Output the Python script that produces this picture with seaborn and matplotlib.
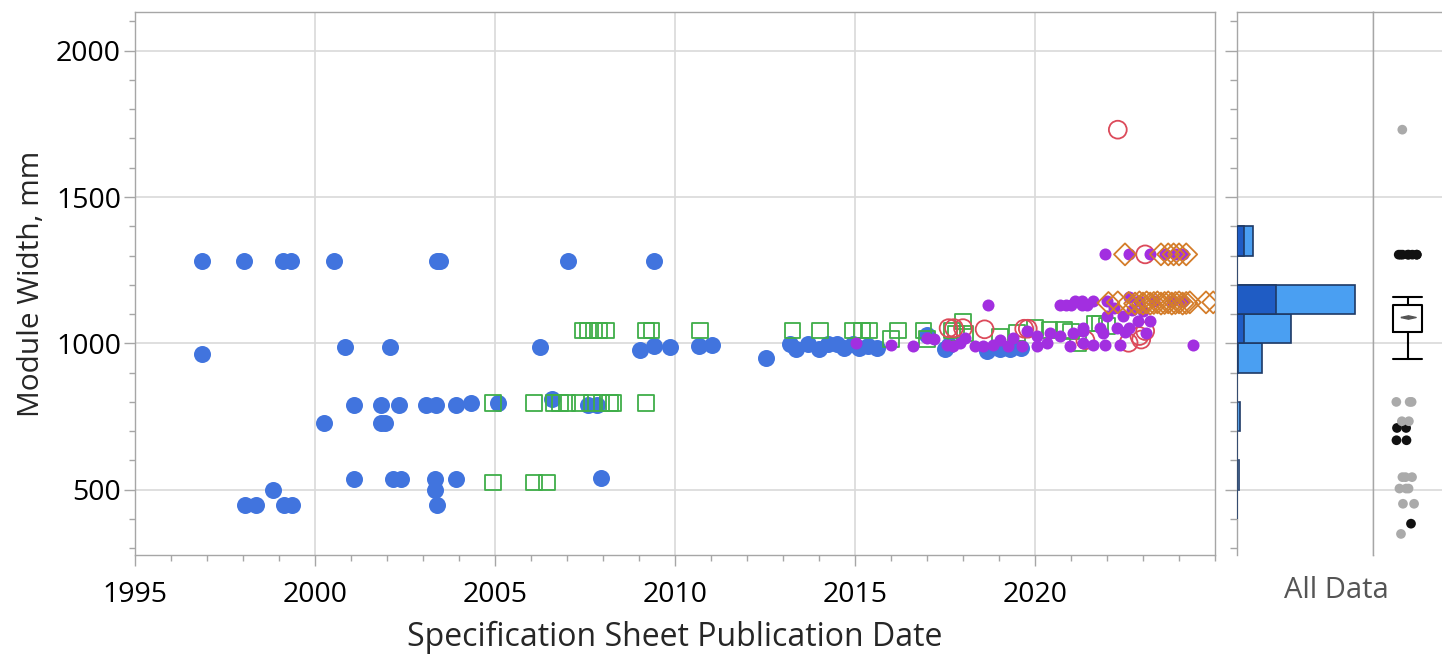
import numpy as np
import pandas as pd
import matplotlib
matplotlib.use("Agg")
import matplotlib.pyplot as plt
from matplotlib import font_manager
from matplotlib.ticker import MultipleLocator, NullFormatter
import seaborn as sns

# ---------------- data ----------------
blue_year = [1996.87, 1998.04, 1999.12, 1999.33, 2000.54, 2003.38, 2003.47, 2007.02, 2009.43,
             1996.87,
             2000.84, 2002.09, 2006.26, 2009.02, 2009.43, 2009.85, 2010.67, 2011.02, 2012.52,
             2013.19, 2013.36, 2013.69, 2014.0, 2014.26, 2014.5, 2014.7, 2014.95, 2015.1,
             2015.35, 2015.6, 2017.0, 2017.5, 2017.6, 2018.66, 2019.03, 2019.3, 2019.6,
             2001.09, 2001.84, 2002.33, 2003.07, 2003.36, 2003.92, 2004.34, 2005.09, 2006.59,
             2007.59, 2007.82,
             2000.26, 2001.84, 2001.95,
             2001.09, 2002.18, 2002.38, 2003.34, 2003.92, 2007.94,
             1998.84, 2003.34,
             1998.06, 1998.36, 1999.14, 1999.35, 2003.4]
blue_width = [1282, 1282, 1282, 1282, 1282, 1282, 1282, 1282, 1282,
              962,
              989, 989, 989, 979, 991, 989, 991, 995, 949,
              998, 980, 998, 980, 998, 998, 985, 998, 985,
              990, 985, 1030, 980, 995, 975, 980, 980, 985,
              788, 788, 788, 788, 788, 788, 797, 797, 809,
              788, 788,
              729, 729, 729,
              535, 535, 535, 535, 535, 539,
              500, 500,
              449, 449, 449, 449, 449]

green_year = [2007.43, 2007.59, 2007.75, 2007.9, 2008.08, 2009.19, 2009.35, 2010.69, 2013.27,
              2014.03, 2014.95, 2015.2, 2015.4, 2016.2, 2016.9, 2017.7,
              2016.0, 2017.0,
              2004.94, 2006.09, 2006.62, 2006.81, 2007.0, 2007.36, 2007.69, 2007.96, 2008.19,
              2008.29, 2009.19,
              2004.94, 2006.09, 2006.44,
              2017.8, 2018.0, 2018.05, 2019.03, 2019.5, 2020.0, 2020.4, 2020.8, 2021.0, 2021.2,
              2021.65, 2021.8, 2022.0]
green_width = [1044, 1044, 1044, 1044, 1044, 1044, 1044, 1044, 1044,
               1044, 1044, 1044, 1044, 1044, 1044, 1044,
               1015, 1015,
               796, 796, 796, 796, 796, 796, 796, 796, 796,
               796, 796,
               524, 524, 524,
               1034, 1074, 1034, 1023, 1036, 1052, 1046, 1046, 1040, 1000,
               1068, 1068, 1060]

red_year = [2017.6, 2017.75, 2018.0, 2018.6, 2019.7, 2019.8, 2021.4, 2022.3, 2022.6, 2022.95,
            2023.06, 2023.06, 2022.9]
red_width = [1052, 1052, 1052, 1048, 1050, 1050, 1011, 1730, 1002, 1013,
             1042, 1304, 1025]

purple_year = [2015.03, 2016.0, 2016.6, 2016.99, 2017.2, 2017.55, 2017.73, 2017.92, 2018.06,
               2018.33, 2018.56, 2018.7, 2018.84, 2019.03, 2019.26, 2019.4, 2019.63, 2019.77,
               2020.05, 2020.05, 2020.32, 2020.42, 2020.69, 2020.97, 2021.06, 2021.34, 2021.34,
               2020.7, 2020.85, 2021.0, 2021.3, 2021.45,
               2021.99, 2022.45, 2022.87, 2023.2, 2021.34, 2021.8, 2022.27, 2022.6, 2023.07,
               2021.6, 2021.95, 2022.36, 2024.4, 2021.9, 2022.5,
               2021.95, 2022.6, 2023.2, 2023.6, 2023.9, 2024.1,
               2021.1, 2021.3, 2021.6, 2022.0, 2022.6, 2022.9, 2023.3, 2023.8, 2024.1,
               2022.2, 2022.7, 2023.0]
purple_width = [1000, 993, 990, 1019, 1016, 993, 990, 1002, 1019,
                990, 990, 1132, 996, 1013, 990, 1019, 990, 1042,
                1025, 990, 1002, 1036, 1025, 990, 1036, 1042, 1002,
                1132, 1132, 1132, 1132, 1132,
                1092, 1092, 1075, 1075, 1052, 1052, 1052, 1052, 1036,
                996, 996, 996, 996, 1036, 1040,
                1304, 1304, 1304, 1304, 1304, 1304,
                1144, 1144, 1144, 1144, 1160, 1144, 1144, 1144, 1144,
                1120, 1115, 1110]

orange_year = [2022.5, 2023.5, 2023.7, 2023.85, 2024.0, 2024.2,
               2022.04, 2022.3, 2022.6, 2022.78, 2022.9, 2023.0, 2023.1, 2023.2, 2023.3, 2023.4,
               2023.5, 2023.6, 2023.7, 2023.8, 2023.9, 2024.0, 2024.1, 2024.2, 2024.3, 2024.75,
               2024.95]
orange_width = [1304, 1304, 1304, 1304, 1304, 1304,
                1138, 1140, 1138, 1136, 1140, 1136, 1140, 1136, 1138, 1140,
                1136, 1138, 1140, 1136, 1138, 1140, 1136, 1138, 1140, 1140,
                1140]

# distribution of all module widths (100 mm bins)
hist_edges = [400, 500, 600, 700, 800, 900, 1000, 1100, 1200, 1300, 1400]
hist_all = [0, 2, 0, 3, 0, 22, 48, 104, 0, 14]
hist_selected = [0, 0, 0, 0, 0, 1, 6, 34, 0, 6]

# box summary for all data
box_whislo, box_q1, box_med, box_q3, box_whishi = 947, 1038, 1091, 1132, 1158
outliers_dark = [1303, 1303, 1303, 1303, 1303, 1303, 1303, 1303, 711, 711, 669, 669, 384]
outliers_light = [1730, 800, 800, 800, 734, 734, 543, 543, 543, 504, 504, 504, 452, 452, 349]

# ---------------- style ----------------
sns.set_theme(style="white")
names = {f.name for f in font_manager.fontManager.ttflist}
base_font = "Open Sans" if "Open Sans" in names else "DejaVu Sans"
plt.rcParams["font.family"] = [base_font, "DejaVu Sans"]

W, H = 1442, 662
fig = plt.figure(figsize=(W / 100, H / 100), dpi=100)


def rect(l, t, r, b):
    return [l / W, 1 - b / H, (r - l) / W, (b - t) / H]


ax = fig.add_axes(rect(135, 12, 1215, 555))
axh = fig.add_axes(rect(1237, 12, 1373, 555))
axb = fig.add_axes(rect(1373, 12, 1442, 555))

YLIM = (277, 2132)
GRID = "#d9d9d9"
SPINE = "#a6a6a6"

# ---------------- main scatter ----------------
sns.scatterplot(x=blue_year, y=blue_width, ax=ax, color="#4174de", marker="o",
                s=150, linewidth=0, zorder=3)
sns.scatterplot(x=green_year, y=green_width, ax=ax, color="#3fae49", marker="s",
                s=125, facecolor="none", edgecolor="#3fae49", linewidth=1.3, zorder=4)
sns.scatterplot(x=red_year, y=red_width, ax=ax, color="#dc4a5a", marker="o",
                s=165, facecolor="none", edgecolor="#dc4a5a", linewidth=1.3, zorder=5)
sns.scatterplot(x=purple_year, y=purple_width, ax=ax, color="#a22fe0", marker="o",
                s=75, linewidth=0, zorder=6)
sns.scatterplot(x=orange_year, y=orange_width, ax=ax, color="#d47d2a", marker="D",
                s=125, facecolor="none", edgecolor="#d47d2a", linewidth=1.3, zorder=7)

ax.set_xlim(1995, 2025)
ax.set_ylim(*YLIM)
ax.xaxis.set_major_locator(MultipleLocator(5))
ax.xaxis.set_minor_locator(MultipleLocator(1))
ax.yaxis.set_major_locator(MultipleLocator(500))
ax.yaxis.set_minor_locator(MultipleLocator(100))
ax.set_xticks([1995, 2000, 2005, 2010, 2015, 2020])
ax.grid(True, which="major", color=GRID, linewidth=1.2, zorder=0)
ax.set_axisbelow(True)
for sp in ax.spines.values():
    sp.set_color(SPINE)
    sp.set_linewidth(1.0)
ax.tick_params(axis="both", which="major", length=8, width=1, color=SPINE,
               labelsize=20.5, labelcolor="black")
ax.tick_params(axis="both", which="minor", length=4, width=1, color=SPINE)
ax.tick_params(axis="x", which="both", bottom=True, pad=11)
ax.tick_params(axis="y", which="both", left=True, pad=2)
ax.set_xlabel("Specification Sheet Publication Date", fontsize=23, labelpad=8)
ax.set_ylabel("Module Width, mm", fontsize=21.5, labelpad=7)

# ---------------- marginal histogram ----------------
centers = [(a + b) / 2 for a, b in zip(hist_edges[:-1], hist_edges[1:])]
sns.histplot(y=centers, weights=hist_all, bins=hist_edges, ax=axh, color="#4a9ff2",
             edgecolor="#1e3a66", linewidth=1.2, alpha=1, zorder=2)
sns.histplot(y=centers, weights=hist_selected, bins=hist_edges, ax=axh, color="#1f5cc4",
             edgecolor="#1e3a66", linewidth=1.2, alpha=1, zorder=3)
axh.set_ylim(*YLIM)
axh.set_xlim(0, 120)
axh.set_xlabel("")
axh.set_ylabel("")
axh.set_xticks([])
axh.yaxis.set_major_locator(MultipleLocator(500))
axh.yaxis.set_minor_locator(MultipleLocator(100))
axh.yaxis.set_major_formatter(NullFormatter())
axh.tick_params(axis="y", which="major", length=9, width=1, color=SPINE, left=True)
axh.tick_params(axis="y", which="minor", length=5, width=1, color=SPINE, left=True)
axh.grid(True, axis="y", which="major", color=GRID, linewidth=1.2, zorder=0)
axh.set_axisbelow(True)
for sp in axh.spines.values():
    sp.set_color(SPINE)
    sp.set_linewidth(1.0)

# ---------------- box plot panel ----------------
np.random.seed(3)
out_df = pd.DataFrame({
    "width": outliers_dark + outliers_light,
    "shade": ["dark"] * len(outliers_dark) + ["light"] * len(outliers_light),
})
sns.stripplot(data=out_df, y="width", hue="shade", palette={"dark": "#111111", "light": "#aaaaaa"},
              jitter=0.17, size=7, linewidth=0, ax=axb, legend=False, zorder=3)

mean_marker = [(-1, 0), (0, 0.22), (1, 0), (0, -0.22), (-1, 0)]
axb.bxp([{"whislo": box_whislo, "q1": box_q1, "med": box_med, "q3": box_q3,
          "whishi": box_whishi, "mean": box_med, "fliers": []}],
        positions=[0], widths=0.42, capwidths=[0.42], showmeans=True, showfliers=False,
        boxprops=dict(color="black", linewidth=1.5),
        whiskerprops=dict(color="black", linewidth=1.5),
        capprops=dict(color="black", linewidth=1.5),
        medianprops=dict(linewidth=0),
        meanprops=dict(marker=mean_marker, markersize=11, markerfacecolor="#555555",
                       markeredgecolor="#555555"),
        zorder=4)
axb.set_xlim(-0.5, 0.5)
axb.set_ylim(*YLIM)
axb.set_xticks([])
axb.set_yticks([500, 1000, 1500, 2000])
axb.yaxis.set_major_formatter(NullFormatter())
axb.tick_params(axis="y", length=0)
axb.set_xlabel("")
axb.set_ylabel("")
axb.grid(True, axis="y", color=GRID, linewidth=1.2, zorder=0)
axb.set_axisbelow(True)
for name, sp in axb.spines.items():
    sp.set_color(SPINE)
    sp.set_linewidth(1.0)
axb.spines["right"].set_visible(False)
axb.spines["bottom"].set_visible(False)
axh.spines["bottom"].set_visible(False)

fig.text(1336 / W, 1 - 590 / H, "All Data", ha="center", va="center", fontsize=21,
         color="#555555")

fig.savefig("out.png", dpi=100)
